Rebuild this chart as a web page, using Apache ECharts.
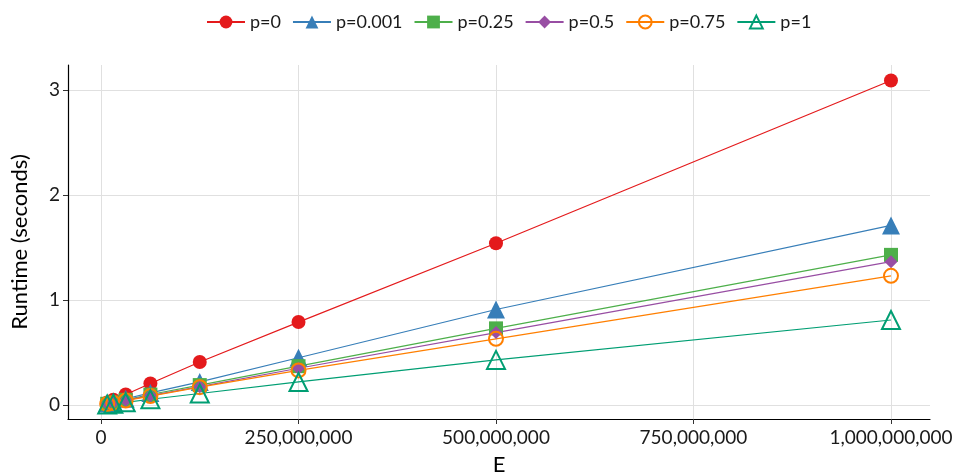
<!DOCTYPE html>
<html>
<head>
<meta charset="utf-8">
<script src="https://cdn.jsdelivr.net/npm/echarts@6/dist/echarts.min.js"></script>
<style>
  html, body { margin: 0; padding: 0; background: #fff; }
  #runtimeChart { width: 958px; height: 476px; }
</style>
</head>
<body>
<div id="runtimeChart"></div>
<script>
// E values (x axis)
const edges = [7812500, 15625000, 31250000, 62500000, 125000000, 250000000, 500000000, 1000000000]
// runtime in seconds per p
const p0 = [0.025, 0.05, 0.1, 0.205, 0.41, 0.79, 1.54, 3.09]
const p0001 = [0.015, 0.03, 0.06, 0.115, 0.22, 0.45, 0.91, 1.71]
const p025 = [0.012, 0.025, 0.05, 0.1, 0.19, 0.37, 0.73, 1.43]
const p05 = [0.012, 0.024, 0.046, 0.09, 0.175, 0.35, 0.69, 1.365]
const p075 = [0.01, 0.02, 0.042, 0.085, 0.17, 0.33, 0.63, 1.23]
const p1 = [0.006, 0.013, 0.026, 0.055, 0.11, 0.22, 0.43, 0.81]
const seriesNames = ['p=0', 'p=0.001', 'p=0.25', 'p=0.5', 'p=0.75', 'p=1']
const xTicks = [0, 250000000, 500000000, 750000000, 1000000000]
const yTicks = [0, 1, 2, 3]

const chart = echarts.init(document.getElementById('runtimeChart'))

function makeSeries(name, values, color, symbol, size, hollow) {
  return {
    name: name,
    type: 'line',
    data: edges.map((e, i) => [e, values[i]]),
    symbol: symbol,
    symbolSize: size,
    lineStyle: { color: color, width: 1.2 },
    itemStyle: hollow
      ? { color: 'rgba(255,255,255,0)', borderColor: color, borderWidth: 2 }
      : { color: color, borderWidth: 0 },
    emphasis: { disabled: true },
    animation: false
  }
}

const fmt = v => v.toString().replace(/\B(?=(\d{3})+(?!\d))/g, ',')

const option = {
  backgroundColor: '#fff',
  textStyle: { fontFamily: 'Lato' },
  legend: {
    top: 8,
    left: 201,
    itemWidth: 38,
    itemHeight: 16,
    itemGap: 11,
    textStyle: { fontSize: 18, color: '#1a1a1a', fontFamily: 'Lato' },
    data: seriesNames
  },
  grid: { left: 68, right: 28, top: 65, bottom: 57, containLabel: false, outerBoundsMode: 'none' },
  xAxis: {
    type: 'value',
    min: -41800000,
    max: 1049400000,
    name: 'E',
    nameLocation: 'middle',
    nameGap: 35,
    nameTextStyle: { fontSize: 22, color: '#000' },
    axisLine: { show: true, onZero: false, lineStyle: { color: '#000', width: 1.2 } },
    axisTick: { show: true, length: 5, customValues: xTicks, lineStyle: { color: '#333' } },
    axisLabel: { customValues: xTicks, fontSize: 19, color: '#1a1a1a', margin: 9, formatter: fmt },
    splitLine: { show: true, lineStyle: { color: '#e0e0e0', width: 1 } }
  },
  yAxis: {
    type: 'value',
    min: -0.133,
    max: 3.238,
    name: 'Runtime (seconds)',
    nameLocation: 'middle',
    nameGap: 37,
    nameTextStyle: { fontSize: 22, color: '#000' },
    axisLine: { show: true, onZero: false, lineStyle: { color: '#000', width: 1.2 } },
    axisTick: { show: true, length: 5, customValues: yTicks, lineStyle: { color: '#333' } },
    axisLabel: { customValues: yTicks, fontSize: 19, color: '#1a1a1a', margin: 8 },
    splitLine: { show: true, lineStyle: { color: '#e0e0e0', width: 1 } }
  },
  series: [
    makeSeries('p=0', p0, '#e41a1c', 'circle', 14, false),
    makeSeries('p=0.001', p0001, '#377eb8', 'triangle', 18, false),
    makeSeries('p=0.25', p025, '#4daf4a', 'rect', 14, false),
    makeSeries('p=0.5', p05, '#984ea3', 'diamond', 13, false),
    makeSeries('p=0.75', p075, '#ff7f00', 'circle', 14, true),
    makeSeries('p=1', p1, '#009e73', 'triangle', 18, true)
  ]
}

chart.setOption(option)
</script>
</body>
</html>
